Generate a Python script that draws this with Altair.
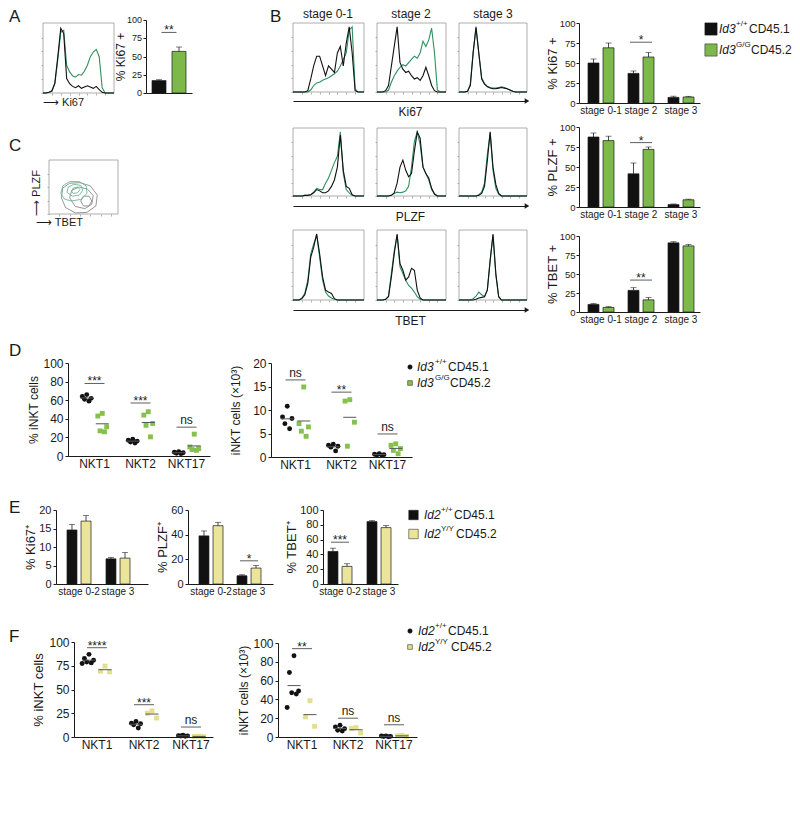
import altair as alt
import pandas as pd

# ---------------- values ----------------
HIST_BINS = list(range(25))

A_HIST_WT = [0, 0, 1, 3, 15, 55, 98, 90, 22, 14, 10, 8, 11, 7, 9, 11, 9, 7, 10, 5, 1, 0, 0, 0, 0]
A_HIST_GG = [0, 0, 1, 3, 14, 50, 92, 95, 42, 32, 26, 24, 28, 27, 33, 42, 55, 62, 66, 55, 8, 0, 0, 0, 0]

B_KI67_S01_WT = [0, 0, 0, 0, 0, 2, 20, 40, 55, 55, 40, 25, 40, 35, 30, 60, 70, 40, 75, 100, 60, 2, 0, 0, 0]
B_KI67_S01_GG = [0, 0, 0, 0, 0, 0, 3, 10, 14, 15, 18, 20, 22, 25, 28, 32, 40, 50, 60, 95, 100, 5, 0, 0, 0]
B_KI67_S2_WT = [0, 0, 0, 2, 10, 40, 70, 100, 45, 35, 30, 32, 25, 20, 22, 18, 25, 38, 25, 10, 2, 0, 0, 0, 0]
B_KI67_S2_GG = [0, 0, 0, 0, 3, 15, 25, 32, 38, 42, 40, 45, 50, 55, 52, 60, 78, 70, 80, 98, 60, 3, 0, 0, 0]
B_KI67_S3_WT = [0, 0, 0, 1, 10, 60, 100, 60, 20, 12, 8, 6, 5, 5, 6, 7, 6, 5, 3, 1, 0, 0, 0, 0, 0]
B_KI67_S3_GG = [0, 0, 0, 1, 12, 62, 98, 58, 22, 13, 9, 7, 6, 6, 7, 8, 7, 5, 3, 1, 0, 0, 0, 0, 0]
B_PLZF_S01_WT = [0, 0, 0, 0, 1, 1, 2, 5, 10, 8, 5, 5, 8, 15, 25, 45, 95, 40, 15, 12, 2, 0, 0, 0, 0]
B_PLZF_S01_GG = [0, 0, 0, 0, 1, 1, 2, 6, 12, 10, 10, 20, 28, 40, 52, 62, 100, 35, 10, 5, 1, 0, 0, 0, 0]
B_PLZF_S2_WT = [0, 0, 0, 0, 0, 1, 5, 20, 45, 56, 40, 30, 35, 70, 100, 90, 45, 35, 28, 12, 3, 0, 0, 0, 0]
B_PLZF_S2_GG = [0, 0, 0, 0, 0, 1, 4, 6, 5, 6, 8, 15, 45, 85, 100, 80, 45, 35, 25, 10, 3, 0, 0, 0, 0]
B_PLZF_S3_WT = [0, 0, 0, 0, 0, 0, 0, 1, 4, 15, 55, 100, 45, 18, 4, 0, 0, 0, 0, 0, 0, 0, 0, 0, 0]
B_PLZF_S3_GG = [0, 0, 0, 0, 0, 0, 0, 2, 6, 20, 65, 98, 40, 12, 3, 0, 0, 0, 0, 0, 0, 0, 0, 0, 0]
B_TBET_S01_WT = [0, 0, 0, 2, 8, 25, 65, 80, 100, 70, 35, 15, 12, 10, 2, 0, 0, 0, 0, 0, 0, 0, 0, 0, 0]
B_TBET_S01_GG = [0, 0, 0, 3, 10, 30, 70, 85, 98, 65, 30, 12, 6, 3, 1, 0, 0, 0, 0, 0, 0, 0, 0, 0, 0]
B_TBET_S2_WT = [0, 0, 0, 1, 5, 35, 70, 100, 55, 45, 30, 35, 48, 45, 15, 3, 0, 0, 0, 0, 0, 0, 0, 0, 0]
B_TBET_S2_GG = [0, 0, 0, 1, 6, 40, 75, 98, 50, 40, 30, 22, 18, 12, 5, 1, 0, 0, 0, 0, 0, 0, 0, 0, 0]
B_TBET_S3_WT = [0, 0, 0, 0, 0, 0, 1, 3, 4, 5, 15, 60, 100, 40, 5, 0, 0, 0, 0, 0, 0, 0, 0, 0, 0]
B_TBET_S3_GG = [0, 0, 0, 0, 0, 2, 6, 12, 8, 5, 15, 60, 98, 38, 5, 0, 0, 0, 0, 0, 0, 0, 0, 0, 0]

ID3_GROUPS = ["Id3 +/+ CD45.1", "Id3 G/G CD45.2"]
ID2_GROUPS = ["Id2 +/+ CD45.1", "Id2 Y/Y CD45.2"]

A_KI67 = [17, 57]
A_KI67_ERR = [1.2, 6]
A_SIG_VALUE, A_SIG_LABEL = 83, "**"
A_TICKS = [0, 25, 50, 75, 100]

B_STAGES = ["stage 0-1", "stage 2", "stage 3"]
B_KI67_WT, B_KI67_WT_ERR = [50, 37, 7], [5, 3, 1.5]
B_KI67_GG, B_KI67_GG_ERR = [69, 57.5, 7.5], [6, 5.5, 0.8]
B_PLZF_WT, B_PLZF_WT_ERR = [87.5, 41.5, 3], [5, 13.5, 0.8]
B_PLZF_GG, B_PLZF_GG_ERR = [83, 72, 9], [5.5, 3, 0.8]
B_TBET_WT, B_TBET_WT_ERR = [10, 28.5, 91], [1, 3.5, 1.5]
B_TBET_GG, B_TBET_GG_ERR = [6, 16, 87], [1, 3, 2]
B_KI67_SIG = [("stage 2", 76, "*")]
B_PLZF_SIG = [("stage 2", 80.5, "*")]
B_TBET_SIG = [("stage 2", 42, "**")]

C_GRAY_OUT_X = [18, 20, 30, 45, 60, 70, 68, 55, 38, 24, 18]
C_GRAY_OUT_Y = [30, 48, 57, 58, 52, 35, 15, 3, 2, 12, 30]
C_GRAY_MID_X = [30, 33, 44, 56, 64, 62, 52, 38, 30]
C_GRAY_MID_Y = [30, 44, 50, 46, 34, 18, 10, 14, 30]
C_GRAY_IN_X = [46, 50, 58, 62, 58, 50, 46]
C_GRAY_IN_Y = [24, 33, 33, 24, 15, 15, 24]
C_GREEN_OUT_X = [17, 20, 30, 44, 54, 55, 46, 32, 22, 17]
C_GREEN_OUT_Y = [38, 52, 60, 60, 52, 38, 27, 24, 28, 38]
C_GREEN_MID_X = [26, 28, 36, 46, 49, 44, 34, 26]
C_GREEN_MID_Y = [40, 50, 55, 53, 44, 35, 33, 40]
C_GREEN_IN_X = [33, 35, 42, 45, 41, 35, 33]
C_GREEN_IN_Y = [42, 48, 50, 45, 39, 38, 42]

NKT = ["NKT1", "NKT2", "NKT17"]
D_PCT_WT = [[66, 64, 62, 61, 59], [18, 17, 16, 15, 14], [4.5, 4, 3.5, 3, 2.5]]
D_PCT_GG = [[45.8, 43, 31.4, 27, 26], [47.6, 44, 35, 33, 20.6], [23.5, 9.7, 8, 6.9, 6.1]]
D_NUM_WT = [[10.8, 8.5, 8.2, 7.1, 6.0], [2.7, 2.5, 2.3, 2.1, 1.3], [0.7, 0.6, 0.5, 0.4, 0.4]]
D_NUM_GG = [[14.9, 7.1, 6.4, 5.5, 4.4], [12.2, 11.9, 7.4, 2.3], [2.8, 2.5, 1.8, 1.4, 0.7]]
D_PCT_SIG = [("NKT1", 78, "***"), ("NKT2", 57, "***"), ("NKT17", 31, "ns")]
D_NUM_SIG = [("NKT1", 16.4, "ns"), ("NKT2", 13.8, "**"), ("NKT17", 4.9, "ns")]

E_STAGES = ["stage 0-2", "stage 3"]
E_KI67_WT, E_KI67_WT_ERR = [14.6, 6.8], [1.5, 0.4]
E_KI67_YY, E_KI67_YY_ERR = [17, 7], [1.5, 1.5]
E_PLZF_WT, E_PLZF_WT_ERR = [39, 6.7], [4, 0.8]
E_PLZF_YY, E_PLZF_YY_ERR = [47.3, 12.9], [2.7, 2.1]
E_TBET_WT, E_TBET_WT_ERR = [44, 84.3], [4.4, 1.3]
E_TBET_YY, E_TBET_YY_ERR = [23.8, 76.2], [3.6, 2.8]
E_PLZF_SIG = [("stage 3", 18.8, "*")]
E_TBET_SIG = [("stage 0-2", 56.5, "***")]

F_PCT_WT = [[87, 82.6, 80.8, 79, 78, 77.4], [16.4, 14.6, 13.9, 12.9, 9.4], [1.8, 1.4, 1.2, 1.0, 0.8]]
F_PCT_YY = [[74.6, 69.3, 68.6], [27.5, 25, 20], [0.8, 0.6, 0.4]]
F_NUM_WT = [[86.4, 68.6, 49, 47, 45.7, 31.4], [12.5, 10.7, 8.9, 7.1, 6.4], [1.2, 1.0, 0.7, 0.5, 0.3]]
F_NUM_YY = [[38.6, 21.4, 11.4], [10, 8.9, 4.3], [1.8, 1.2, 0.6]]
F_PCT_SIG = [("NKT1", 94, "****"), ("NKT2", 34, "***"), ("NKT17", 10.5, "ns")]
F_NUM_SIG = [("NKT1", 94, "**"), ("NKT2", 20, "ns"), ("NKT17", 13, "ns")]

# ---------------- style / layout ----------------
W, H = 784, 808
FONT = "Liberation Sans"
INK = "#1a1a1a"
WT_COL = "#111111"
GG_BAR = "#7cb84a"
GG_DOT = "#86c150"
GG_LINE = "#2f8f5f"
YY_BAR = "#ebe59b"
YY_DOT = "#e2df8e"
FRAME = "#9a9a9a"
CONT_GRAY = "#8a8a8a"
CONT_GREEN = "#6fb596"
SLOT_ORDER = [3, 1, 5, 2, 4, 0, 6]
HIST_XTICKS = [3, 6, 9, 12, 15, 18, 21]
HIST_YTICKS = [0, 21, 42, 63, 84]


def PX(x):
    return x - 8


def PY(y):
    return y - 8


def band_scale(domain, r0, r1, first, step, bw):
    n = len(domain)
    rng = r1 - r0
    p_i = 1 - bw / step
    p_o = (rng / step - n + p_i) / 2
    align = (first - r0) / (2 * p_o * step)
    return alt.Scale(domain=domain, range=[PX(r0), PX(r1)], paddingInner=p_i,
                     paddingOuter=p_o, align=align)


def lin_scale(vmax, ybot, ytop):
    return alt.Scale(domain=[0, vmax], range=[PY(ybot), PY(ytop)], nice=False, zero=True)


def left_axis(xpix, values, title, lsize, tsize, tpad, lpad=2, labels=True):
    return alt.Axis(orient="left", offset=-PX(xpix), values=values, title=title, grid=False,
                    domainColor=INK, domainWidth=1, tickColor=INK, tickWidth=1, tickSize=3,
                    labels=labels, labelFontSize=lsize, labelColor=INK, labelPadding=lpad,
                    labelFont=FONT, labelOverlap=False, titleFontSize=tsize, titleColor=INK,
                    titleFontWeight="normal", titlePadding=tpad, titleFont=FONT, zindex=2)


def bottom_axis(ypix, lsize, hide=False):
    extra = {"labelExpr": "''"} if hide else {}
    return alt.Axis(orient="bottom", offset=PY(ypix) - H, title="", grid=False, ticks=False,
                    domainColor=INK, domainWidth=1, labelFontSize=lsize,
                    labelColor=INK, labelPadding=2, labelAngle=0, labelFont=FONT,
                    labelOverlap=False, zindex=2, **extra)


def frame_axes(x0, ybot, xvals, yvals):
    hx = alt.Axis(orient="bottom", offset=PY(ybot) - H, values=xvals, labels=False, domain=False,
                  ticks=True, tickSize=2, tickColor=FRAME, tickWidth=0.8, title="", grid=False)
    hy = alt.Axis(orient="left", offset=-PX(x0), values=yvals, labels=False, domain=False,
                  ticks=True, tickSize=2, tickColor=FRAME, tickWidth=0.8, title="", grid=False)
    return hx, hy


def sig_layers(sig, xs, ys, xax, yax, length, size=12, shift=0):
    if not sig:
        return []
    sdf = pd.DataFrame({"cat": [s[0] for s in sig], "y": [s[1] for s in sig],
                        "lab": [s[2] for s in sig]})
    sb = alt.Chart(sdf)
    enc = dict(x=alt.X("cat:N", scale=xs, axis=xax), y=alt.Y("y:Q", scale=ys, axis=yax))
    line = sb.mark_tick(orient="horizontal", size=length, thickness=1, color=INK,
                        xOffset=shift).encode(**enc)
    stars = sb.transform_filter("datum.lab != 'ns'").mark_text(
        font=FONT, fontSize=size, baseline="alphabetic", dy=2, dx=shift, color=INK).encode(
        text="lab:N", **enc)
    ns = sb.transform_filter("datum.lab == 'ns'").mark_text(
        font=FONT, fontSize=size, baseline="alphabetic", dy=-3, dx=shift, color=INK).encode(
        text="lab:N", **enc)
    return [line, stars, ns]


def a_bar_panel():
    df = pd.DataFrame({"grp": ID3_GROUPS, "val": A_KI67,
                       "top": [v + e for v, e in zip(A_KI67, A_KI67_ERR)],
                       "col": [WT_COL, GG_BAR]})
    xs = band_scale(ID3_GROUPS, 146, 192, 152, 20, 14)
    ys = lin_scale(100, 93, 20)
    xax = bottom_axis(93, 9, hide=True)
    yax = left_axis(146, A_TICKS, "% Ki67 +", 9, 12, 15, 1, labels=False)
    base = alt.Chart(df)
    bars = base.mark_bar(stroke=INK, strokeWidth=0.7).encode(
        x=alt.X("grp:N", scale=xs, axis=xax), y=alt.Y("val:Q", scale=ys, axis=yax),
        color=alt.Color("col:N", scale=None))
    err = base.mark_rule(color=INK, strokeWidth=0.8).encode(
        x=alt.X("grp:N", scale=xs, axis=xax), y=alt.Y("val:Q", scale=ys, axis=yax), y2="top:Q")
    cap = base.mark_tick(orient="horizontal", color=INK, thickness=0.8, size=6).encode(
        x=alt.X("grp:N", scale=xs, axis=xax), y=alt.Y("top:Q", scale=ys, axis=yax))
    # tick labels of the y axis, placed through the y scale
    tl = alt.Chart(pd.DataFrame({"v": A_TICKS})).mark_text(
        font=FONT, fontSize=9, align="right", baseline="middle", color=INK).encode(
        x=alt.value(PX(142)), y=alt.Y("v:Q", scale=ys, axis=yax), text=alt.Text("v:Q"))
    sig = sig_layers([(ID3_GROUPS[0], A_SIG_VALUE, A_SIG_LABEL)], xs, ys, xax, yax, 15, shift=10)
    return alt.layer(bars, err, cap, tl, *sig)


def bar_panel(cats, groups, means, errs, colors, sig, lay):
    rows = []
    for g, m, e, c in zip(groups, means, errs, colors):
        for cat, mi, ei in zip(cats, m, e):
            rows.append({"cat": cat, "grp": g, "val": mi, "top": mi + ei, "col": c})
    df = pd.DataFrame(rows)
    xs = band_scale(cats, lay["x0"], lay["x1"], lay["first"], lay["step"], lay["bw"])
    ys = lin_scale(lay["vmax"], lay["ybot"], lay["ytop"])
    xax = bottom_axis(lay["ybot"], lay["xl"])
    yax = left_axis(lay["x0"], lay["ticks"], lay["title"], lay["yl"], lay["tl"], lay["tp"],
                    lay.get("lp", 2))
    os_ = alt.Scale(domain=groups, paddingInner=lay["gap"], paddingOuter=0)
    xo = alt.XOffset("grp:N", scale=os_)
    base = alt.Chart(df)
    bars = base.mark_bar(stroke=INK, strokeWidth=0.7).encode(
        x=alt.X("cat:N", scale=xs, axis=xax), xOffset=xo,
        y=alt.Y("val:Q", scale=ys, axis=yax),
        color=alt.Color("col:N", scale=None))
    err = base.mark_rule(color=INK, strokeWidth=0.8).encode(
        x=alt.X("cat:N", scale=xs, axis=xax), xOffset=xo,
        y=alt.Y("val:Q", scale=ys, axis=yax), y2="top:Q")
    cap = base.mark_tick(orient="horizontal", color=INK, thickness=0.8, size=lay["cap"]).encode(
        x=alt.X("cat:N", scale=xs, axis=xax), xOffset=xo,
        y=alt.Y("top:Q", scale=ys, axis=yax))
    return alt.layer(bars, err, cap, *sig_layers(sig, xs, ys, xax, yax, lay["siglen"]))


def dot_panel(cats, groups, values, colors, shapes, sig, lay):
    rows = []
    for gi, (g, per_cat, c, s) in enumerate(zip(groups, values, colors, shapes)):
        for cat, vals in zip(cats, per_cat):
            for k, v in enumerate(vals):
                rows.append({"cat": cat, "grp": g, "val": v, "slot": SLOT_ORDER[k] + 7 * gi,
                             "mid": 3 + 7 * gi, "col": c, "shp": s})
    df = pd.DataFrame(rows)
    xs = band_scale(cats, lay["x0"], lay["x1"], lay["first"], lay["step"], lay["bw"])
    ys = lin_scale(lay["vmax"], lay["ybot"], lay["ytop"])
    xax = bottom_axis(lay["ybot"], lay["xl"])
    yax = left_axis(lay["x0"], lay["ticks"], lay["title"], lay["yl"], lay["tl"], lay["tp"])
    os_ = alt.Scale(domain=list(range(14)), paddingInner=0, paddingOuter=0)
    base = alt.Chart(df)
    pts = base.mark_point(filled=True, size=lay["dot"], opacity=1).encode(
        x=alt.X("cat:N", scale=xs, axis=xax),
        xOffset=alt.XOffset("slot:O", scale=os_),
        y=alt.Y("val:Q", scale=ys, axis=yax),
        color=alt.Color("col:N", scale=None),
        shape=alt.Shape("shp:N", scale=None))
    mean = base.mark_tick(orient="horizontal", size=13, thickness=1, color="#555555").encode(
        x=alt.X("cat:N", scale=xs, axis=xax),
        xOffset=alt.XOffset("mid:O", scale=os_),
        y=alt.Y("mean(val):Q", scale=ys, axis=yax))
    return alt.layer(pts, mean, *sig_layers(sig, xs, ys, xax, yax, lay["siglen"]))


def hist_panel(wt, gg, x0, x1, ytop, ybot):
    xs = alt.Scale(domain=[HIST_BINS[0], HIST_BINS[-1]], range=[PX(x0), PX(x1)], nice=False, zero=False)
    ys = alt.Scale(domain=[0, 106], range=[PY(ybot), PY(ytop)], nice=False, zero=True)
    hx, hy = frame_axes(x0, ybot, HIST_XTICKS, HIST_YTICKS)
    fdf = pd.DataFrame({"a": [HIST_BINS[0]], "b": [HIST_BINS[-1]], "c": [0], "d": [106]})
    frame = alt.Chart(fdf).mark_rect(fill="white", stroke=FRAME, strokeWidth=0.8).encode(
        x=alt.X("a:Q", scale=xs, axis=hx), x2="b:Q",
        y=alt.Y("c:Q", scale=ys, axis=hy), y2="d:Q")

    def curve(vals, col):
        d = pd.DataFrame({"i": HIST_BINS, "v": vals})
        return alt.Chart(d).mark_line(color=col, strokeWidth=1.1).encode(
            x=alt.X("i:Q", scale=xs, axis=hx), y=alt.Y("v:Q", scale=ys, axis=hy))
    return alt.layer(frame, curve(gg, GG_LINE), curve(wt, WT_COL))


def contour_panel(x0, x1, ytop, ybot):
    xs = alt.Scale(domain=[0, 100], range=[PX(x0), PX(x1)], nice=False, zero=False)
    ys = alt.Scale(domain=[0, 100], range=[PY(ybot), PY(ytop)], nice=False, zero=False)
    hx, hy = frame_axes(x0, ybot, [15, 30, 45, 60, 75, 90], [0, 25, 50, 75])
    fdf = pd.DataFrame({"a": [0], "b": [100], "c": [0], "d": [100]})
    frame = alt.Chart(fdf).mark_rect(fill="white", stroke=FRAME, strokeWidth=0.8).encode(
        x=alt.X("a:Q", scale=xs, axis=hx), x2="b:Q",
        y=alt.Y("c:Q", scale=ys, axis=hy), y2="d:Q")
    loops = [(C_GRAY_OUT_X, C_GRAY_OUT_Y, CONT_GRAY), (C_GRAY_MID_X, C_GRAY_MID_Y, CONT_GRAY),
             (C_GRAY_IN_X, C_GRAY_IN_Y, CONT_GRAY), (C_GREEN_OUT_X, C_GREEN_OUT_Y, CONT_GREEN),
             (C_GREEN_MID_X, C_GREEN_MID_Y, CONT_GREEN), (C_GREEN_IN_X, C_GREEN_IN_Y, CONT_GREEN)]
    layers = [frame]
    for lx, ly, col in loops:
        d = pd.DataFrame({"x": lx, "y": ly, "k": list(range(len(lx)))})
        layers.append(alt.Chart(d).mark_line(color=col, strokeWidth=0.9).encode(
            x=alt.X("x:Q", scale=xs, axis=hx), y=alt.Y("y:Q", scale=ys, axis=hy), order="k:Q"))
    return alt.layer(*layers)


def arrow_row(x0, x1, ypix, label):
    xs = alt.Scale(domain=[0, 1], range=[PX(x0), PX(x1)], nice=False, zero=False)
    ax = alt.Axis(orient="bottom", offset=PY(ypix) - H, title=label, labels=False, ticks=False,
                  grid=False, domainColor=INK, domainWidth=1, titleFontSize=12,
                  titleFontWeight="normal", titleColor=INK, titlePadding=5, titleFont=FONT)
    return alt.Chart(pd.DataFrame({"p": [1.0]})).mark_point(
        shape="triangle-right", filled=True, size=28, color=INK, opacity=1).encode(
        x=alt.X("p:Q", scale=xs, axis=ax), y=alt.value(PY(ypix)))


def text_at(x, y, s, size=11, align="center", angle=0, style="normal", color=INK, baseline="middle"):
    return alt.Chart(pd.DataFrame({"t": [s]})).mark_text(
        font=FONT, fontSize=size, align=align, angle=angle, fontStyle=style, color=color,
        baseline=baseline).encode(x=alt.value(PX(x)), y=alt.value(PY(y)), text="t:N")


def sym_at(x, y, shape, size, color):
    return alt.Chart(pd.DataFrame({"k": [0]})).mark_point(
        shape=shape, size=size, filled=True, color=color, opacity=1,
        stroke=INK, strokeWidth=0.5).encode(x=alt.value(PX(x)), y=alt.value(PY(y)))


def legend_entry(sx, y, gene, sup, rest, gx, supx, restx, shape, ssize, color, fs=12):
    return [sym_at(sx, y, shape, ssize, color),
            text_at(gx, y, gene, size=fs, align="left", style="italic"),
            text_at(supx, y - 5, sup, size=8, align="left"),
            text_at(restx, y, rest, size=fs, align="left")]


layers = []

# ---------------- A ----------------
layers.append(hist_panel(A_HIST_WT, A_HIST_GG, 43, 114, 23, 93))
layers.append(a_bar_panel())

# ---------------- B histograms ----------------
B_COLS = [(293, 364), (377, 446), (459, 527)]
B_ROWS = [(23, 92), (128, 196), (230, 300)]
B_HISTS = [[(B_KI67_S01_WT, B_KI67_S01_GG), (B_KI67_S2_WT, B_KI67_S2_GG), (B_KI67_S3_WT, B_KI67_S3_GG)],
           [(B_PLZF_S01_WT, B_PLZF_S01_GG), (B_PLZF_S2_WT, B_PLZF_S2_GG), (B_PLZF_S3_WT, B_PLZF_S3_GG)],
           [(B_TBET_S01_WT, B_TBET_S01_GG), (B_TBET_S2_WT, B_TBET_S2_GG), (B_TBET_S3_WT, B_TBET_S3_GG)]]
for (rt, rb), row in zip(B_ROWS, B_HISTS):
    for (c0, c1), (wt, gg) in zip(B_COLS, row):
        layers.append(hist_panel(wt, gg, c0, c1, rt, rb))
for ypix, lab in [(101, "Ki67"), (206, "PLZF"), (310, "TBET")]:
    layers.append(arrow_row(293, 527, ypix, lab))

# ---------------- B bars ----------------
BLAY = dict(x0=579, x1=700, first=588, step=40, bw=26, gap=0.27, vmax=100,
            ticks=[0, 25, 50, 75, 100], yl=9.5, tl=13, tp=0, lp=1, xl=10, cap=6, siglen=22)
layers.append(bar_panel(B_STAGES, ID3_GROUPS, [B_KI67_WT, B_KI67_GG], [B_KI67_WT_ERR, B_KI67_GG_ERR],
                        [WT_COL, GG_BAR], B_KI67_SIG, dict(BLAY, ybot=103, ytop=23, title="% Ki67 +")))
layers.append(bar_panel(B_STAGES, ID3_GROUPS, [B_PLZF_WT, B_PLZF_GG], [B_PLZF_WT_ERR, B_PLZF_GG_ERR],
                        [WT_COL, GG_BAR], B_PLZF_SIG, dict(BLAY, ybot=207, ytop=127, title="% PLZF +")))
layers.append(bar_panel(B_STAGES, ID3_GROUPS, [B_TBET_WT, B_TBET_GG], [B_TBET_WT_ERR, B_TBET_GG_ERR],
                        [WT_COL, GG_BAR], B_TBET_SIG, dict(BLAY, ybot=312, ytop=236, title="% TBET +")))

# ---------------- C ----------------
layers.append(contour_panel(49, 118, 160, 214))

# ---------------- D ----------------
DLAY = dict(yl=12, tl=12, xl=12, siglen=20, dot=24)
layers.append(dot_panel(NKT, ID3_GROUPS, [D_PCT_WT, D_PCT_GG], [WT_COL, GG_DOT], ["circle", "square"],
                        D_PCT_SIG, dict(DLAY, x0=68, x1=210, first=79, step=46, bw=31, ybot=456,
                                        ytop=363, vmax=100, ticks=[0, 20, 40, 60, 80, 100],
                                        title="% iNKT cells", tp=2)))
layers.append(dot_panel(NKT, ID3_GROUPS, [D_NUM_WT, D_NUM_GG], [WT_COL, GG_DOT], ["circle", "square"],
                        D_NUM_SIG, dict(DLAY, x0=271, x1=412, first=279, step=46, bw=33, ybot=457,
                                        ytop=363, vmax=20, ticks=[0, 5, 10, 15, 20],
                                        title="iNKT cells (×10³)", tp=10)))

# ---------------- E ----------------
ELAY = dict(bw=24, gap=0.29, ybot=584, ytop=510, yl=11, tl=13, tp=1, xl=10, cap=6, siglen=18)
layers.append(bar_panel(E_STAGES, ID2_GROUPS, [E_KI67_WT, E_KI67_YY], [E_KI67_WT_ERR, E_KI67_YY_ERR],
                        [WT_COL, YY_BAR], [], dict(ELAY, x0=56, x1=148, first=67, step=39, vmax=20,
                                                   ticks=[0, 5, 10, 15, 20], title="% Ki67⁺")))
layers.append(bar_panel(E_STAGES, ID2_GROUPS, [E_PLZF_WT, E_PLZF_YY], [E_PLZF_WT_ERR, E_PLZF_YY_ERR],
                        [WT_COL, YY_BAR], E_PLZF_SIG, dict(ELAY, x0=188, x1=273, first=199, step=38,
                                                           vmax=60, ticks=[0, 20, 40, 60],
                                                           title="% PLZF⁺")))
layers.append(bar_panel(E_STAGES, ID2_GROUPS, [E_TBET_WT, E_TBET_YY], [E_TBET_WT_ERR, E_TBET_YY_ERR],
                        [WT_COL, YY_BAR], E_TBET_SIG, dict(ELAY, x0=323, x1=398, first=328, step=39,
                                                           vmax=100, ticks=[0, 20, 40, 60, 80, 100],
                                                           title="% TBET⁺")))

# ---------------- F ----------------
layers.append(dot_panel(NKT, ID2_GROUPS, [F_PCT_WT, F_PCT_YY], [WT_COL, YY_DOT], ["circle", "square"],
                        F_PCT_SIG, dict(DLAY, x0=74, x1=213, first=81, step=47, bw=32, ybot=737,
                                        ytop=642, vmax=100, ticks=[0, 25, 50, 75, 100],
                                        title="% iNKT cells", tl=13, tp=3)))
layers.append(dot_panel(NKT, ID2_GROUPS, [F_NUM_WT, F_NUM_YY], [WT_COL, YY_DOT], ["circle", "square"],
                        F_NUM_SIG, dict(DLAY, x0=278, x1=417, first=286, step=46, bw=32, ybot=737,
                                        ytop=643, vmax=100, ticks=[0, 20, 40, 60, 80, 100],
                                        title="iNKT cells (×10³)", tp=2)))

# ---------------- annotations ----------------
for lx, ly, lt in [(9, 17, "A"), (270, 17, "B"), (9, 146, "C"), (9, 351, "D"), (9, 508, "E"), (9, 637, "F")]:
    layers.append(text_at(lx, ly, lt, size=17, align="left"))
for cx, ct in [(328, "stage 0-1"), (411, "stage 2"), (493, "stage 3")]:
    layers.append(text_at(cx, 14, ct, size=12))
layers.append(text_at(43, 103, "⟶ Ki67", size=11, align="left"))
layers.append(text_at(37, 193, "⟶ PLZF", size=11, angle=270))
layers.append(text_at(36, 223, "⟶ TBET", size=11, align="left"))

# legends
layers += legend_entry(711, 29, "Id3", "+/+", "CD45.1", 719, 736, 749, "square", 150, WT_COL)
layers += legend_entry(711, 50, "Id3", "G/G", "CD45.2", 719, 736, 751, "square", 150, GG_BAR)
layers += legend_entry(410, 367, "Id3", "+/+", "CD45.1", 417, 435, 448, "circle", 20, WT_COL)
layers += legend_entry(410, 383, "Id3", "G/G", "CD45.2", 417, 435, 450, "square", 22, GG_DOT)
layers += legend_entry(413.5, 515, "Id2", "+/+", "CD45.1", 424, 441, 454, "square", 90, WT_COL)
layers += legend_entry(413.5, 534, "Id2", "Y/Y", "CD45.2", 424, 441, 456, "square", 90, YY_BAR)
layers += legend_entry(410, 631, "Id2", "+/+", "CD45.1", 418, 435, 448, "circle", 20, WT_COL)
layers += legend_entry(410, 647, "Id2", "Y/Y", "CD45.2", 418, 435, 451, "square", 22, YY_DOT)

chart = alt.layer(*layers).resolve_scale(
    x="independent", y="independent", xOffset="independent"
).properties(
    width=W, height=H, autosize=alt.AutoSizeParams(type="none"), padding=0
).configure_view(stroke="transparent").configure_axis(
    labelFont=FONT, titleFont=FONT
).configure_text(font=FONT)

chart.save("out.html", embed_options={"renderer": "svg", "actions": False})
